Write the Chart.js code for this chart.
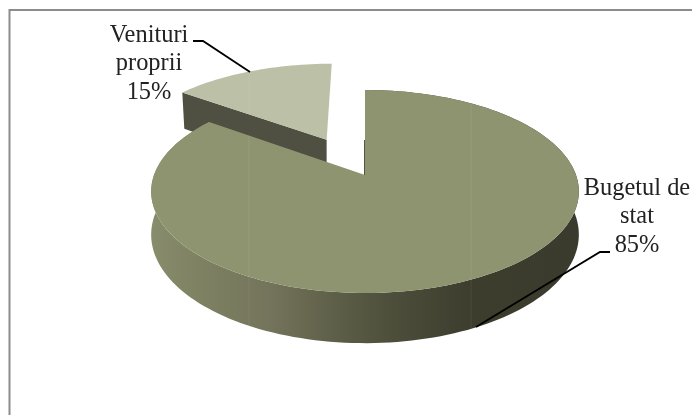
<!DOCTYPE html>
<html>
<head>
<meta charset="utf-8">
<style>
html, body { margin: 0; background: #fff; }
canvas { display: block; }
</style>
<script src="https://cdn.jsdelivr.net/npm/chart.js@4"></script>
</head>
<body>
<canvas id="pieChart" width="692" height="415"></canvas>
<script>
const categories = ['Bugetul de stat', 'Venituri proprii'];
const shares = [85, 15];
const sliceColors = ['#8e9470', '#bcc0a6'];
const bugetLines = ['Bugetul de', 'stat', '85%'];
const venituriLines = ['Venituri', 'proprii', '15%'];

// tilted disc, far side is smaller
const cx = 365, cy = 175, radiusX = 211, radiusY = 98.8, tilt = 0.1626;
const depth = 42;
const explode = 0.425;

function project(u, v) {
    let w = 1 + tilt * v;
    return { x: cx + radiusX * u / w, y: cy - radiusY * v / w, d: depth / w };
}

function slicePoints(arc, shift) {
    let mid = (arc.startAngle + arc.endAngle) / 2;
    let ou = Math.cos(mid) * shift, ov = -Math.sin(mid) * shift;
    let outer = [];
    let steps = Math.ceil((arc.endAngle - arc.startAngle) / 0.03);
    for (let i = 0; i <= steps; i++) {
        let a = arc.startAngle + (arc.endAngle - arc.startAngle) * i / steps;
        outer.push(project(Math.cos(a) + ou, -Math.sin(a) + ov));
    }
    return { apex: project(ou, ov), outer };
}

function tracePoly(ctx, points) {
    ctx.beginPath();
    points.forEach((p, i) => i ? ctx.lineTo(p.x, p.y) : ctx.moveTo(p.x, p.y));
    ctx.closePath();
}

function seam(ctx, x, y1, y2) {
    ctx.strokeStyle = 'rgba(255,255,255,0.07)';
    ctx.lineWidth = 1;
    ctx.beginPath();
    ctx.moveTo(x, y1);
    ctx.lineTo(x, y2);
    ctx.stroke();
}

function leader(ctx, points) {
    ctx.strokeStyle = '#000';
    ctx.lineWidth = 1.8;
    ctx.beginPath();
    points.forEach((p, i) => i ? ctx.lineTo(p[0], p[1]) : ctx.moveTo(p[0], p[1]));
    ctx.stroke();
}

function label(ctx, lines, x, y) {
    ctx.fillStyle = '#222';
    ctx.font = '24.4px "Liberation Serif"';
    ctx.textAlign = 'center';
    ctx.textBaseline = 'alphabetic';
    lines.forEach((line, i) => ctx.fillText(line, x, y + i * 28.4));
}

const pie3d = {
    id: 'pie3d',
    beforeDatasetsDraw(chart) {
        let ctx = chart.ctx;
        let arcs = chart.getDatasetMeta(0).data;
        let big = slicePoints(arcs[0], 0);
        let small = slicePoints(arcs[1], explode);

        ctx.save();

        // frame
        ctx.strokeStyle = '#8c8c8c';
        ctx.lineWidth = 2;
        ctx.beginPath();
        ctx.moveTo(9.5, 415);
        ctx.lineTo(9.5, 10);
        ctx.lineTo(692, 10);
        ctx.stroke();

        // small slice: cut face, then top
        let left = small.outer[0];
        ctx.fillStyle = '#4f5042';
        tracePoly(ctx, [small.apex, left, { x: left.x + 2, y: left.y + left.d }, { x: small.apex.x, y: small.apex.y + small.apex.d }]);
        ctx.fill();
        ctx.fillStyle = arcs[1].options.backgroundColor;
        tracePoly(ctx, [small.apex].concat(small.outer));
        ctx.fill();
        ctx.save();
        ctx.clip();
        seam(ctx, 249, 60, 130);
        ctx.restore();

        // big slice: outer wall, then top
        let wall = ctx.createLinearGradient(152, 0, 580, 0);
        wall.addColorStop(0, '#878c6b');
        wall.addColorStop(0.15, '#7b7e60');
        wall.addColorStop(0.27, '#75745c');
        wall.addColorStop(0.45, '#5b5c46');
        wall.addColorStop(0.6, '#494a37');
        wall.addColorStop(0.75, '#3c3d2d');
        wall.addColorStop(1, '#3a3b2c');
        let lower = big.outer.map(p => ({ x: p.x, y: p.y + p.d })).reverse();
        ctx.fillStyle = wall;
        tracePoly(ctx, big.outer.concat(lower));
        ctx.fill();
        ctx.save();
        ctx.clip();
        seam(ctx, 249, 100, 340);
        seam(ctx, 471, 100, 340);
        ctx.restore();

        ctx.fillStyle = arcs[0].options.backgroundColor;
        tracePoly(ctx, [big.apex].concat(big.outer));
        ctx.fill();
        ctx.save();
        ctx.clip();
        seam(ctx, 249, 100, 340);
        seam(ctx, 471, 100, 340);
        ctx.restore();

        // thin dark edge of the gap
        ctx.strokeStyle = '#55563f';
        ctx.lineWidth = 1;
        ctx.beginPath();
        ctx.moveTo(364.5, 140);
        ctx.lineTo(364.5, 175);
        ctx.stroke();

        leader(ctx, [[193, 41], [203, 41], [250, 72]]);
        leader(ctx, [[610, 252], [600, 252], [476, 327]]);
        label(ctx, venituriLines, 149, 42);
        label(ctx, bugetLines, 637, 195);

        ctx.restore();
        return false;
    }
};

new Chart(document.getElementById('pieChart'), {
    type: 'pie',
    data: {
        labels: categories,
        datasets: [{
            data: shares,
            backgroundColor: sliceColors,
            borderWidth: 0
        }]
    },
    options: {
        responsive: false,
        animation: false,
        devicePixelRatio: 1,
        plugins: { legend: { display: false }, tooltip: { enabled: false } }
    },
    plugins: [pie3d]
});
</script>
</body>
</html>
